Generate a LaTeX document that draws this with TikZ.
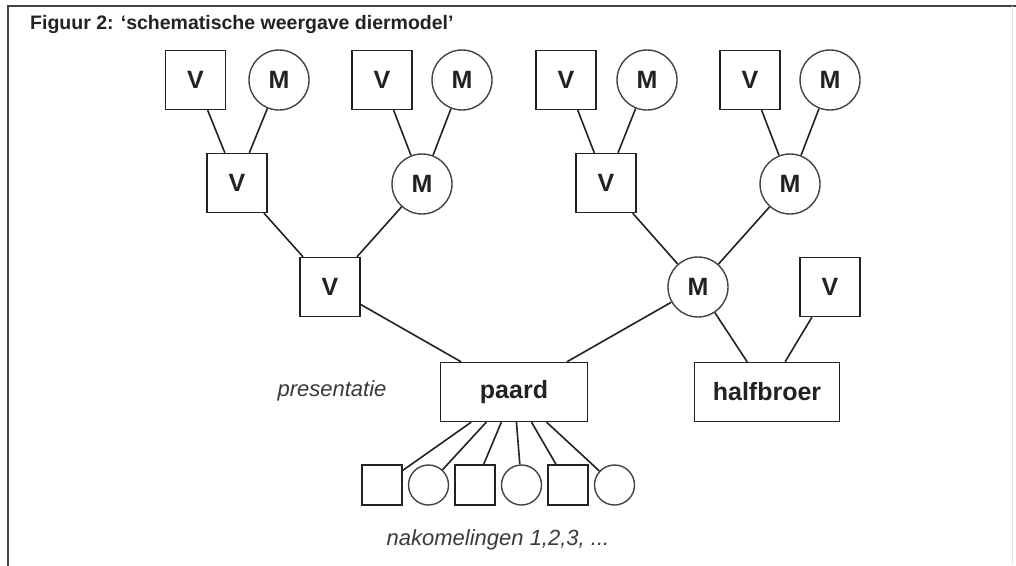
\documentclass[tikz,border=0pt]{standalone}
\usepackage{fontspec}
\setmainfont{Liberation Sans}
\definecolor{ink}{HTML}{222222}
\definecolor{lab}{HTML}{3A3A3A}
\begin{document}
\begin{tikzpicture}[x=1pt,y=-1pt,
  every node/.style={text=ink},
  male/.style={draw=ink,line width=1.4pt,rectangle,minimum width=60pt,minimum height=59pt,inner sep=0pt,font=\fontsize{25}{30}\selectfont\bfseries},
  female/.style={draw=ink!85,line width=1.4pt,circle,minimum size=60pt,inner sep=0pt,font=\fontsize{25}{30}\selectfont\bfseries},
  kidm/.style={draw=ink,line width=1.4pt,rectangle,minimum size=40pt,inner sep=0pt},
  kidf/.style={draw=ink!85,line width=1.4pt,circle,minimum size=40pt,inner sep=0pt},
  bigbox/.style={draw=ink,line width=1.4pt,rectangle,minimum width=147pt,minimum height=59pt,inner sep=0pt,font=\fontsize{25}{30}\selectfont\bfseries},
  link/.style={draw=ink,line width=1.6pt},
  note/.style={text=lab,font=\fontsize{22}{26}\selectfont\itshape}]
\useasboundingbox[fill=white] (0,0) rectangle (1016,565);
% frame
\coordinate (fl) at (8,565);
\coordinate (ft) at (8,6);
\coordinate (fr) at (1016,6);
\draw[line width=2.6pt,draw=ink!85,line cap=rect] (fl) -- (ft) -- (fr);
\draw[line width=1pt,draw=black!12] (1012,6) -- (1012,565);
\node[anchor=base west,font=\fontsize{19.5}{23}\selectfont\bfseries,inner sep=0pt] (title) at (30,29) {Figuur 2: ‘schematische weergave diermodel’};
% top row
\node[male] (a1) at (195.5,80) {V};
\node[female] (a2) at (279,80) {M};
\node[male] (a3) at (382,80) {V};
\node[female] (a4) at (462,80) {M};
\node[male] (a5) at (566,80) {V};
\node[female] (a6) at (647,80) {M};
\node[male] (a7) at (750,80) {V};
\node[female] (a8) at (830,80) {M};
% level 2
\node[male] (b1) at (237,183) {V};
\node[female] (b2) at (422,184) {M};
\node[male] (b3) at (606,183) {V};
\node[female] (b4) at (790,184) {M};
% level 3
\node[male] (c1) at (330,287) {V};
\node[female] (c2) at (698,287) {M};
\node[male] (c3) at (830,287) {V};
% level 4
\node[bigbox] (paard) at (514,392) {paard};
\node[bigbox,minimum width=145pt] (half) at (767,392) {halfbroer};
\node[note] (pres) at (332,391) {presentatie};
% children
\node[kidm] (k1) at (382,485) {};
\node[kidf] (k2) at (428.5,485) {};
\node[kidm] (k3) at (475,485) {};
\node[kidf] (k4) at (521.5,485) {};
\node[kidm] (k5) at (568,485) {};
\node[kidf] (k6) at (614.5,485) {};
\node[note] (nak) at (498,540) {nakomelingen 1,2,3, ...};
% links
\draw[link] (a1) -- (b1);
\draw[link] (a2) -- (b1);
\draw[link] (a3) -- (b2);
\draw[link] (a4) -- (b2);
\draw[link] (a5) -- (b3);
\draw[link] (a6) -- (b3);
\draw[link] (a7) -- (b4);
\draw[link] (a8) -- (b4);
\draw[link] (b1) -- (c1);
\draw[link] (b2) -- (c1);
\draw[link] (b3) -- (c2);
\draw[link] (b4) -- (c2);
\draw[link] (c1) -- (paard);
\draw[link] (c2) -- (paard);
\draw[link] (c2) -- (half);
\draw[link] (c3) -- (half);
\foreach \k in {k1,k2,k3,k4,k5,k6} \draw[link] (paard) -- (\k);
\end{tikzpicture}
\end{document}
